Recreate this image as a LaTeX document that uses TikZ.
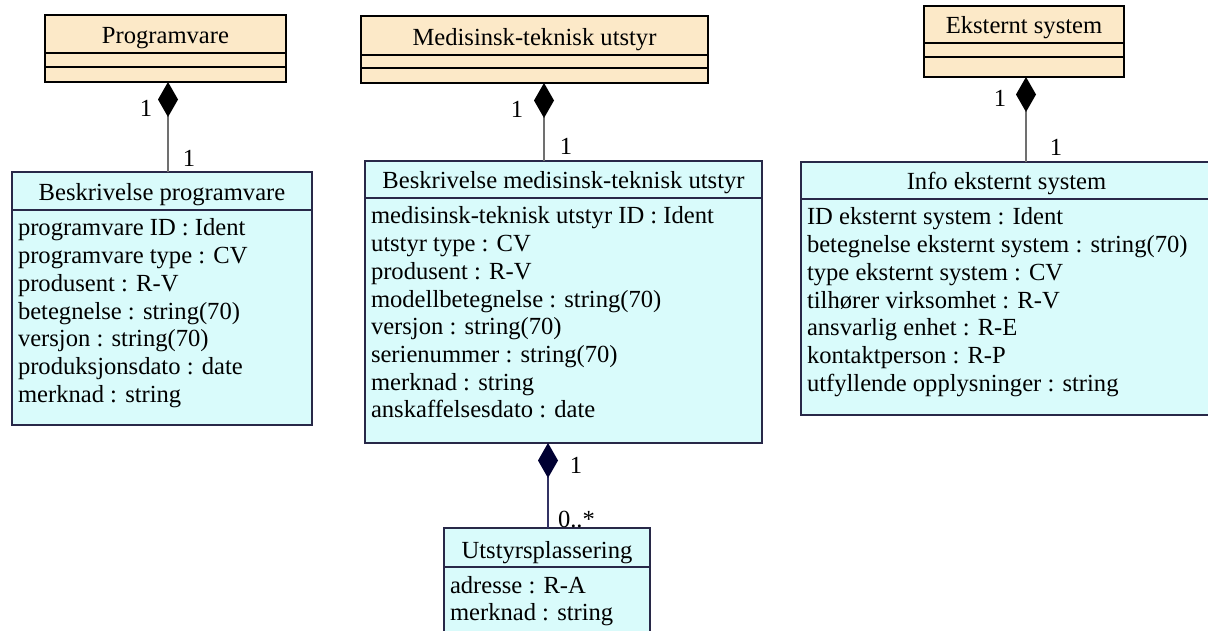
\documentclass[tikz,border=0pt]{standalone}
\usepackage{fontspec}
\setmainfont{Liberation Serif}
\usetikzlibrary{arrows.meta}

\definecolor{headfill}{RGB}{252,233,200}
\definecolor{classfill}{RGB}{217,251,251}
\definecolor{boxline}{RGB}{40,40,72}
\definecolor{linkgray}{RGB}{112,112,112}
\definecolor{linknavy}{RGB}{50,50,100}
\definecolor{tipnavy}{RGB}{0,0,50}

\tikzset{
  umltext/.style={font=\fontsize{24.6}{28}\selectfont, inner sep=0pt, outer sep=0pt},
  headbox/.style={draw=black, fill=headfill, line width=1.3pt, inner sep=0pt, outer sep=0pt},
  classbox/.style={draw=boxline, fill=classfill, line width=1.3pt, inner sep=0pt, outer sep=0pt},
  complink/.style={line width=1.2pt, {Diamond[length=35pt,width=20pt,color=#1,fill=#1]}-},
  complink/.default=black,
}

\begin{document}
\begin{tikzpicture}[x=1pt, y=-1pt]
    \useasboundingbox (0,0) rectangle (1208,631);

    % name, left, top, right, bottom, divider 1, divider 2, title
    \newcommand{\drawhead}[8]{
        \node[headbox, anchor=north west, minimum width={#4-#2}, minimum height={#5-#3}] (#1) at (#2,#3) {};
        \draw[line width=1.3pt] (#2,#6) -- (#4,#6);
        \draw[line width=1.3pt] (#2,#7) -- (#4,#7);
        \node[umltext, anchor=base] (#1-title) at ({(#2+#4)/2},{#6-9}) {#8};
    }
    % name, left, top, right, bottom, divider, title, attributes
    \newcommand{\drawclass}[8]{
        \node[classbox, anchor=north west, minimum width={#4-#2}, minimum height={#5-#3}] (#1) at (#2,#3) {};
        \draw[boxline, line width=1.3pt] (#2,#6) -- (#4,#6);
        \node[umltext, anchor=base] (#1-title) at ({(#2+#4)/2},{#6-9}) {#7};
        \foreach \attr [count=\i] in {#8} {
            \node[umltext, anchor=base west] (#1-\i) at ({#2+6},{#6+26+(\i-1)*27.7}) {\attr};
        }
    }

    \drawhead{prog}{45}{15}{286}{82}{53}{67}{Programvare}
    \drawhead{medtek}{361}{16}{708}{83}{55}{68}{Medisinsk-teknisk utstyr}
    \drawhead{ekst}{924}{6}{1124}{77}{43}{57}{Eksternt system}

    \drawclass{besprog}{12}{172}{312}{425}{210}{Beskrivelse programvare}{programvare ID : Ident, programvare type : CV, produsent : R-V, betegnelse : string(70), versjon : string(70), produksjonsdato : date, merknad : string}
    \drawclass{besmed}{365}{161}{762}{443}{198}{Beskrivelse medisinsk-teknisk utstyr}{medisinsk-teknisk utstyr ID : Ident, utstyr type : CV, produsent : R-V, modellbetegnelse : string(70), versjon : string(70), serienummer : string(70), merknad : string, anskaffelsesdato : date}
    \drawclass{infoekst}{801}{162}{1212}{415}{199}{Info eksternt system}{ID eksternt system : Ident, betegnelse eksternt system : string(70), type eksternt system : CV, tilhører virksomhet : R-V, ansvarlig enhet : R-E, kontaktperson : R-P, utfyllende opplysninger : string}
    \drawclass{plass}{444}{528}{650}{645}{567}{Utstyrsplassering}{adresse : R-A, merknad : string}

    % composition links
    \coordinate (x-prog) at (168,0);
    \coordinate (x-med) at (544,0);
    \coordinate (x-ekst) at (1026,0);
    \coordinate (x-plass) at (548,0);
    \draw[linkgray, complink] (prog.south -| x-prog) -- (besprog.north -| x-prog);
    \draw[linkgray, complink] (medtek.south -| x-med) -- (besmed.north -| x-med);
    \draw[linkgray, complink] (ekst.south -| x-ekst) -- (infoekst.north -| x-ekst);
    \draw[linknavy, complink=tipnavy] (besmed.south -| x-plass) -- (plass.north -| x-plass);

    % multiplicities
    \node[umltext, anchor=base] (m-prog-a) at (146,117) {1};
    \node[umltext, anchor=base] (m-prog-b) at (189,167) {1};
    \node[umltext, anchor=base] (m-med-a) at (517,118) {1};
    \node[umltext, anchor=base] (m-med-b) at (566,155) {1};
    \node[umltext, anchor=base] (m-ekst-a) at (1000,107) {1};
    \node[umltext, anchor=base] (m-ekst-b) at (1056,156) {1};
    \node[umltext, anchor=base] (m-plass-a) at (576,473) {1};
    \node[umltext, anchor=base west] (m-plass-b) at (558,527) {0..*};
\end{tikzpicture}
\end{document}
